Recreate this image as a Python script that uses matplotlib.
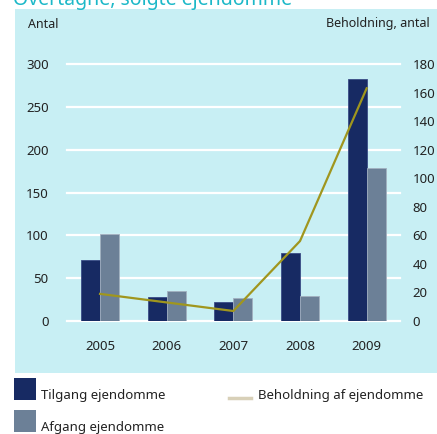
import matplotlib
matplotlib.use("Agg")
import matplotlib.pyplot as plt
from matplotlib.patches import Rectangle
from matplotlib.lines import Line2D
import numpy as np

years = ["2005", "2006", "2007", "2008", "2009"]
tilgang = [71, 28, 22, 79, 283]
afgang = [101, 35, 27, 29, 179]
beholdning = [19, 13, 7, 56, 163]
left_ticks = [0, 50, 100, 150, 200, 250, 300]
right_ticks = [0, 20, 40, 60, 80, 100, 120, 140, 160, 180]

C_TIL = "#172A63"
C_AFG = "#6C8097"
C_LINE = "#A0961E"
C_LEG_LINE = "#D8D0B8"
C_PANEL = "#C8EFF4"
C_TITLE = "#1CB8C8"
C_TEXT = "#222222"

plt.rcParams['font.family'] = ['Noto Sans', 'DejaVu Sans']

W, H = 437, 434
fig = plt.figure(figsize=(W / 100, H / 100), dpi=100)
fig.patch.set_facecolor("white")

def fx(px):
    return px / W

def fy(py):
    return 1 - py / H

# light blue panel
fig.patches.append(Rectangle((fx(15), fy(373)), 1 - fx(15), fy(9) - fy(373),
                             transform=fig.transFigure, facecolor=C_PANEL,
                             edgecolor="none", zorder=-5))

# title (cut off at top, as in the reference)
fig.text(fx(13), fy(5), "Overtagne, solgte ejendomme", color=C_TITLE,
         fontsize=14, fontweight="bold", ha="left", va="baseline")

ax = fig.add_axes([fx(66.7), fy(321), fx(400) - fx(66.7), fy(64) - fy(321)])
ax.set_facecolor("none")
x = np.arange(len(years))
bw = 0.285
ax.bar(x - bw / 2, tilgang, width=bw, color=C_TIL, edgecolor="#3A4C86",
       linewidth=0.6, zorder=3)
ax.bar(x + bw / 2, afgang, width=bw, color=C_AFG, edgecolor="#A2B0C0",
       linewidth=0.6, zorder=3)
ax.set_xlim(-0.5, len(years) - 0.5)
ax.set_ylim(0, 300)
for t in left_ticks:
    ax.axhline(t, color="white", linewidth=1.6, zorder=1, clip_on=False)
ax.set_yticks(left_ticks)
ax.set_yticklabels([str(t) for t in left_ticks])
ax.set_xticks(x)
ax.set_xticklabels(years)
ax.tick_params(axis="both", length=0, labelsize=9.5, colors=C_TEXT)
ax.tick_params(axis="y", pad=13)
ax.tick_params(axis="x", pad=14)
for s in ax.spines.values():
    s.set_visible(False)

ax2 = ax.twinx()
ax2.set_ylim(0, 180)
ax2.plot(x, beholdning, color=C_LINE, linewidth=1.6, zorder=4)
ax2.set_yticks(right_ticks)
ax2.set_yticklabels([str(t) for t in right_ticks])
ax2.tick_params(axis="y", length=0, labelsize=9.5, colors=C_TEXT, pad=9)
for s in ax2.spines.values():
    s.set_visible(False)

fig.text(fx(28), fy(24), "Antal", fontsize=9, color=C_TEXT, ha="left", va="center")
fig.text(fx(430), fy(24), "Beholdning, antal", fontsize=9, color=C_TEXT,
         ha="right", va="center")

# legend
fig.patches.append(Rectangle((fx(14), fy(400)), fx(22), fy(378) - fy(400),
                             transform=fig.transFigure, facecolor=C_TIL,
                             edgecolor="none"))
fig.patches.append(Rectangle((fx(14), fy(432)), fx(22), fy(410) - fy(432),
                             transform=fig.transFigure, facecolor=C_AFG,
                             edgecolor="none"))
fig.text(fx(41), fy(396), "Tilgang ejendomme", fontsize=9.5, color=C_TEXT,
         ha="left", va="center")
fig.text(fx(41), fy(428), "Afgang ejendomme", fontsize=9.5, color=C_TEXT,
         ha="left", va="center")
fig.lines.append(Line2D([fx(229), fx(251)], [fy(397.5), fy(397.5)],
                        transform=fig.transFigure, color=C_LEG_LINE,
                        linewidth=2.5))
fig.text(fx(258), fy(396), "Beholdning af ejendomme", fontsize=9.5,
         color=C_TEXT, ha="left", va="center")

fig.savefig("out.png", dpi=100)
